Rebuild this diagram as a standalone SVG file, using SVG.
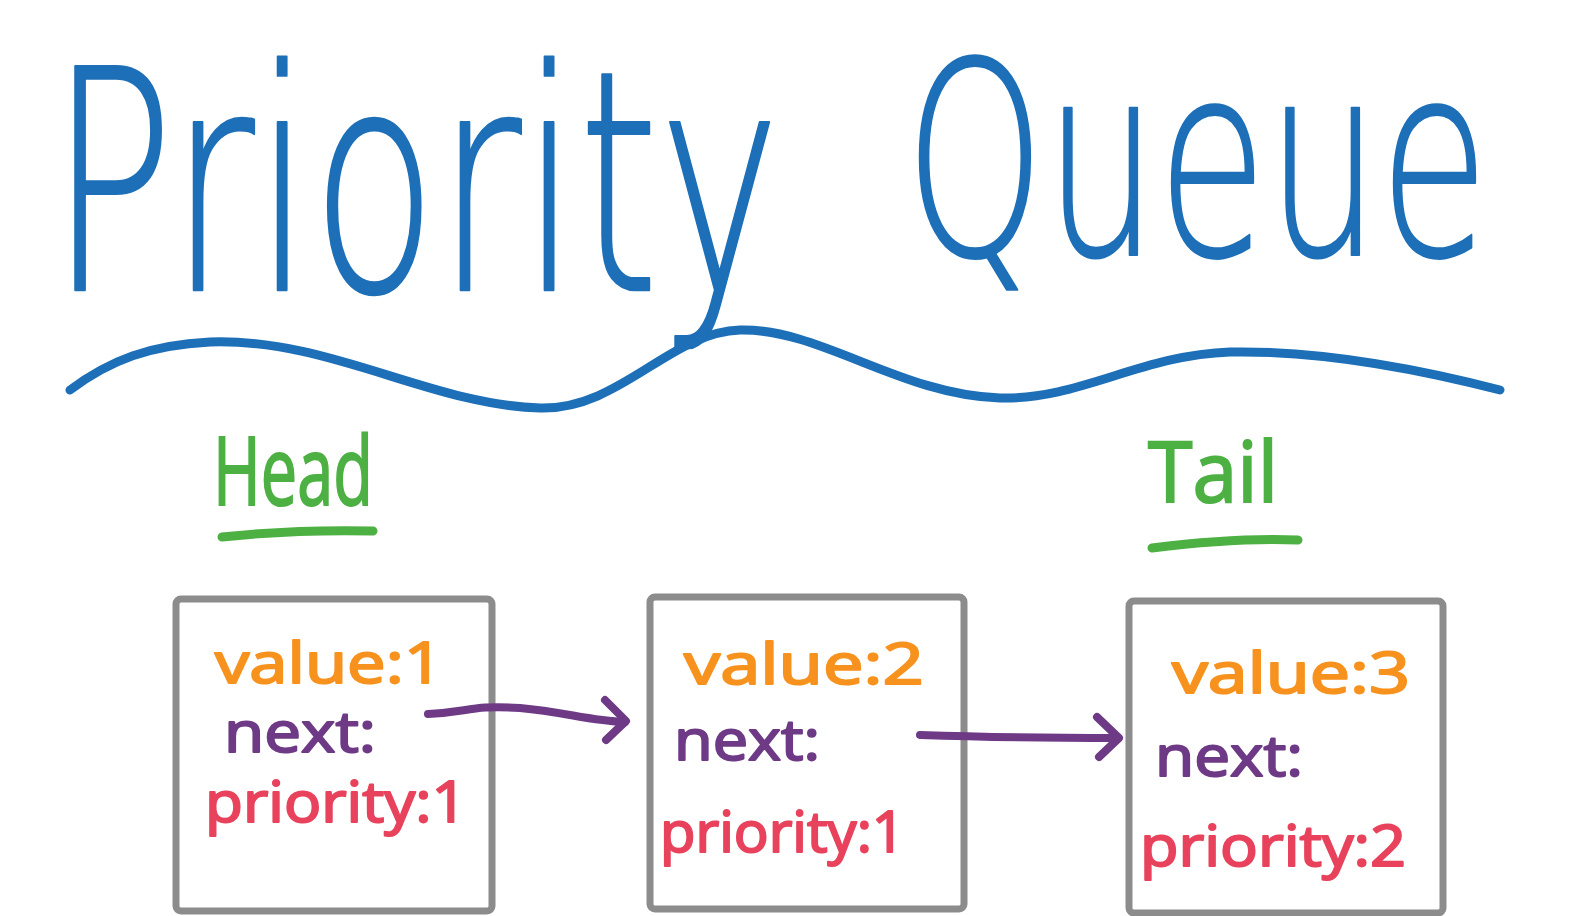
<svg xmlns="http://www.w3.org/2000/svg" width="1579" height="916" viewBox="0 0 1579 916">
<defs>
<style>
.title{font-family:"DejaVu Sans","Liberation Sans",sans-serif;font-weight:200;font-size:100px;fill:#1d6fb8;stroke:#1d6fb8;stroke-width:0.8;stroke-linejoin:round}
.lbl{font-family:"Open Sans","Liberation Sans",sans-serif;font-weight:400;fill:#4db043;stroke:#4db043;stroke-width:2}
.box{fill:#ffffff;stroke:#8c8c8c;stroke-width:7}
.t{font-family:"Open Sans","Liberation Sans",sans-serif;font-size:56px;font-weight:400;stroke-width:2;stroke-linejoin:round}
.v{fill:#f7921e;stroke:#f7921e}
.n{fill:#6e3a86;stroke:#6e3a86}
.p{fill:#e8425c;stroke:#e8425c}
.wave{fill:none;stroke:#1d6fb8;stroke-width:9;stroke-linecap:round}
.ul{fill:none;stroke:#4db043;stroke-width:9;stroke-linecap:round}
.conn{fill:none;stroke:#6e3a86;stroke-width:8;stroke-linecap:round;stroke-linejoin:round}
</style>
</defs>
<rect width="1579" height="916" fill="#ffffff"/>
<g id="title">
<text class="title" x="0" y="0" transform="translate(50,290) scale(2.04,3.07)" textLength="358" lengthAdjust="spacingAndGlyphs">Priority</text>
<text class="title" x="0" y="0" transform="translate(905,255) scale(1.78,2.69)" textLength="328" lengthAdjust="spacingAndGlyphs">Queue</text>
<path class="wave" d="M70,390 C110,360 150,345 210,342 C330,338 430,405 540,408 C620,410 670,332 740,330 C820,328 900,395 1000,398 C1080,400 1140,355 1230,352 C1330,350 1430,372 1500,390"/>
</g>
<g id="head">
<text class="lbl" x="213" y="505" font-size="95" textLength="160" lengthAdjust="spacingAndGlyphs">Head</text>
<path class="ul" d="M222,537 C270,532 330,530 373,531"/>
</g>
<g id="tail">
<text class="lbl" x="1148" y="502" font-size="85" textLength="130" lengthAdjust="spacingAndGlyphs">Tail</text>
<path class="ul" d="M1152,548 C1200,542 1250,538 1298,540"/>
</g>
<g id="node1">
<rect class="box" x="176" y="599" width="316" height="312" rx="5"/>
<text class="t v" x="215" y="683" textLength="228" lengthAdjust="spacingAndGlyphs">value:1</text>
<text class="t n" x="224" y="752" textLength="152" lengthAdjust="spacingAndGlyphs">next:</text>
<text class="t p" x="205" y="822" textLength="262" lengthAdjust="spacingAndGlyphs">priority:1</text>
</g>
<g id="node2">
<rect class="box" x="650" y="597" width="314" height="312" rx="5"/>
<text class="t v" x="684" y="684" textLength="240" lengthAdjust="spacingAndGlyphs">value:2</text>
<text class="t n" x="674" y="760" textLength="146" lengthAdjust="spacingAndGlyphs">next:</text>
<text class="t p" x="660" y="852" textLength="245" lengthAdjust="spacingAndGlyphs">priority:1</text>
</g>
<g id="node3">
<rect class="box" x="1129" y="601" width="314" height="312" rx="5"/>
<text class="t v" x="1172" y="693" textLength="238" lengthAdjust="spacingAndGlyphs">value:3</text>
<text class="t n" x="1155" y="776" textLength="148" lengthAdjust="spacingAndGlyphs">next:</text>
<text class="t p" x="1140" y="866" textLength="266" lengthAdjust="spacingAndGlyphs">priority:2</text>
</g>
<g id="connectors">
<path class="conn" d="M428,714 C470,712 470,705 520,708 C565,712 590,721 625,722"/>
<path class="conn" d="M605,700 L626,721 L606,740"/>
<path class="conn" d="M920,735 C980,737 1060,738 1118,738"/>
<path class="conn" d="M1097,717 L1119,738 L1099,757"/>
</g>
</svg>
